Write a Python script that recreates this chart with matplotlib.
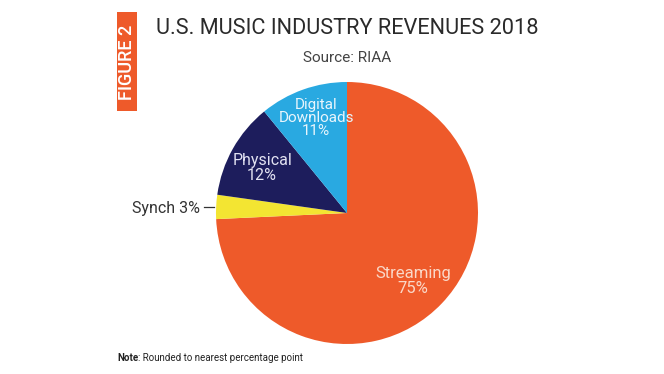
import matplotlib
matplotlib.use("Agg")
import matplotlib.pyplot as plt
from matplotlib.patches import Rectangle

categories = ["Streaming", "Synch", "Physical", "Digital Downloads"]
values = [75, 3, 12, 11]
colors = ["#EE5A2A", "#F3E532", "#1D1D5C", "#29A9E1"]

W, H = 664, 374
fig = plt.figure(figsize=(W / 100, H / 100), dpi=100)
fig.patch.set_facecolor("white")
plt.rcParams['font.family'] = ['Roboto', 'DejaVu Sans']

def fx(px):
    return px / W

def fy(py):
    return 1 - py / H

# pie axes: center (347,213), radius 131 px
cx, cy, r = 347, 213, 131
ax = fig.add_axes([fx(cx - r), fy(cy + r), 2 * r / W, 2 * r / H])
ax.pie(values, colors=colors, startangle=90, counterclock=False, radius=1,
       wedgeprops=dict(linewidth=0))
ax.set_xlim(-1, 1)
ax.set_ylim(-1, 1)
ax.set_aspect("equal")
ax.axis("off")

def dpos(px, py):
    return ((px - cx) / r, (cy - py) / r)

ax.text(*dpos(316, 118), "Digital\nDownloads\n11%", ha="center", va="center",
        color="#E8F5FC", fontsize=11, linespacing=0.95)
ax.text(*dpos(262, 168), "Physical\n12%", ha="center", va="center",
        color="#E2E2F2", fontsize=11.5, linespacing=1.0)
ax.text(*dpos(413, 281), "Streaming\n75%", ha="center", va="center",
        color="#FAD8C8", fontsize=12, linespacing=1.0)

# Synch label outside
fig.text(fx(200), fy(208), "Synch 3%", ha="right", va="center",
         color="#333333", fontsize=11.5)
fig.add_artist(plt.Line2D([fx(204), fx(214)], [fy(206.5), fy(206.5)],
                          color="#333333", linewidth=0.9))

# FIGURE 2 tag
fig.add_artist(Rectangle((fx(117), fy(111)), 20 / W, 99 / H,
                         facecolor="#EE5A2A", edgecolor="none",
                         transform=fig.transFigure))
fig.text(fx(127.5), fy(62), "FIGURE 2", rotation=90, ha="center", va="center",
         color="white", fontsize=13, fontweight="medium")

fig.text(fx(347), fy(28), "U.S. MUSIC INDUSTRY REVENUES 2018", ha="center",
         va="center", color="#2a2a2a", fontsize=15.7)
fig.text(fx(347), fy(58), "Source: RIAA", ha="center", va="center",
         color="#444444", fontsize=11)

t1 = fig.text(fx(117), fy(358), "Note", ha="left", va="center",
              color="#222222", fontsize=7, fontweight="bold")
fig.canvas.draw()
bb = t1.get_window_extent()
fig.text(bb.x1 / W, fy(358), ": Rounded to nearest percentage point",
         ha="left", va="center", color="#222222", fontsize=7)

fig.savefig("out.png", dpi=100, facecolor="white")
